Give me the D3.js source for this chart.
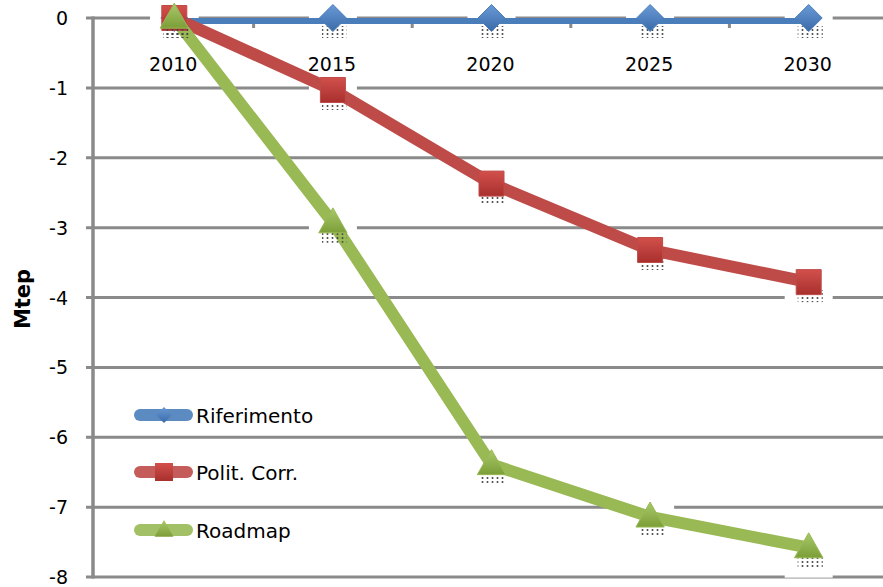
<!DOCTYPE html>
<html>
<head>
<meta charset="utf-8">
<script src="https://cdn.jsdelivr.net/npm/d3@7"></script>
<style>
  body { margin: 0; background: #fff; }
  text { font-family: "DejaVu Sans", sans-serif; fill: #000; }
</style>
</head>
<body>
<svg id="chart" width="883" height="587"></svg>
<script>
// chart data
const years = ["2010", "2015", "2020", "2025", "2030"];
const riferimento = [0, 0, 0, 0, 0];
const politCorr = [0, -1.03, -2.37, -3.32, -3.78];
const roadmap = [0, -2.93, -6.39, -7.14, -7.58];
const yTicks = [0, -1, -2, -3, -4, -5, -6, -7, -8];
const seriesNames = ["Riferimento", "Polit. Corr.", "Roadmap"];

const series = [
  { name: seriesNames[0], values: riferimento, line: "#4a7ebb", top: "#6a9ad6", bottom: "#3a6aa8", marker: "diamond" },
  { name: seriesNames[1], values: politCorr, line: "#be4b48", top: "#d2504c", bottom: "#a8302d", marker: "square" },
  { name: seriesNames[2], values: roadmap, line: "#98b954", top: "#a9c96a", bottom: "#7c9e38", marker: "triangle" }
];

const width = 883, height = 587;
const plot = { left: 93, top: 18, right: 888, bottom: 577 };

const svg = d3.select("#chart");
const defs = svg.append("defs");

defs.append("clipPath").attr("id", "plotClip")
  .append("rect")
  .attr("x", plot.left).attr("y", plot.top)
  .attr("width", width - plot.left).attr("height", plot.bottom - plot.top);

series.forEach((s, i) => {
  const g = defs.append("linearGradient").attr("id", "grad" + i)
    .attr("x1", 0).attr("y1", 0).attr("x2", 0).attr("y2", 1);
  g.append("stop").attr("offset", "0%").attr("stop-color", s.top);
  g.append("stop").attr("offset", "100%").attr("stop-color", s.bottom);
});

// dotted shadow pattern under markers
const pat = defs.append("pattern").attr("id", "dots")
  .attr("patternUnits", "userSpaceOnUse").attr("width", 5).attr("height", 4);
pat.append("circle").attr("cx", 2.5).attr("cy", 2).attr("r", 1).attr("fill", "#444");

// scales
const x = d3.scaleBand().domain(years).range([plot.left + 2, plot.right]).padding(0);
const y = d3.scaleLinear().domain([0, -8]).range([plot.top, plot.bottom]);
const cx = d => x(d) + x.bandwidth() / 2;

// gridlines
svg.append("g").selectAll("line")
  .data(yTicks)
  .join("line")
  .attr("x1", plot.left - 7).attr("x2", width)
  .attr("y1", d => y(d)).attr("y2", d => y(d))
  .attr("stroke", "#8a8a8a").attr("stroke-width", 3);

// y axis line
svg.append("line")
  .attr("x1", plot.left).attr("x2", plot.left)
  .attr("y1", plot.top - 1.5).attr("y2", plot.bottom + 1.5)
  .attr("stroke", "#8a8a8a").attr("stroke-width", 3.5);

// x axis ticks between categories
svg.append("g").selectAll("line")
  .data(years.slice(1))
  .join("line")
  .attr("x1", d => x(d)).attr("x2", d => x(d))
  .attr("y1", y(0)).attr("y2", y(0) + 10)
  .attr("stroke", "#8a8a8a").attr("stroke-width", 3);

// y tick labels
svg.append("g").selectAll("text")
  .data(yTicks)
  .join("text")
  .attr("x", 68).attr("y", d => y(d) + 7)
  .attr("text-anchor", "end")
  .attr("font-size", 19)
  .text(d => d);

// x category labels
svg.append("g").selectAll("text")
  .data(years)
  .join("text")
  .attr("x", d => cx(d) - 1).attr("y", 71)
  .attr("text-anchor", "middle")
  .attr("font-size", 19)
  .text(d => d);

// axis title
svg.append("text")
  .attr("transform", "translate(30,299) rotate(-90)")
  .attr("text-anchor", "middle")
  .attr("font-size", 21).attr("font-weight", "bold")
  .text("Mtep");

// white boxes behind (hidden) data labels
series.forEach(s => {
  svg.append("g").selectAll("rect")
    .data(years)
    .join("rect")
    .attr("x", d => cx(d) - 24).attr("y", (d, i) => y(s.values[i]) - 12)
    .attr("width", 48).attr("height", 42)
    .attr("fill", "#fff");
});

// lines
const line = d3.line().x(d => cx(d.year)).y(d => y(d.v));
series.forEach(s => {
  svg.append("path")
    .datum(years.map((yr, i) => ({ year: yr, v: s.values[i] })))
    .attr("clip-path", "url(#plotClip)")
    .attr("d", line)
    .attr("fill", "none")
    .attr("stroke", s.line)
    .attr("stroke-width", 12)
    .attr("stroke-linejoin", "round");
});

function markerPath(type, r) {
  if (type === "diamond") return `M0,${-r}L${r},0L0,${r}L${-r},0Z`;
  if (type === "square") return `M${-r},${-r}H${r}V${r}H${-r}Z`;
  return `M0,${-r * 1.1}L${r * 1.05},${r * 0.75}L${-r * 1.05},${r * 0.75}Z`;
}

// markers
series.forEach((s, si) => {
  const size = s.marker === "square" ? 12.5 : 13.5;
  const g = svg.append("g");
  g.selectAll("rect.dots")
    .data(years)
    .join("rect")
    .attr("class", "dots")
    .attr("x", d => cx(d) - 11).attr("y", (d, i) => y(s.values[i]) + 8)
    .attr("width", 25).attr("height", 12)
    .attr("fill", "url(#dots)");
  g.selectAll("path")
    .data(years)
    .join("path")
    .attr("transform", (d, i) => `translate(${cx(d)},${y(s.values[i])})`)
    .attr("d", markerPath(s.marker, size))
    .attr("fill", `url(#grad${si})`)
    .attr("stroke", s.line).attr("stroke-width", 1);
});

// legend
const legendY = [415, 472, 530];
const legend = svg.append("g");
series.forEach((s, i) => {
  const ly = legendY[i];
  legend.append("line")
    .attr("x1", 140).attr("x2", 187)
    .attr("y1", ly).attr("y2", ly)
    .attr("stroke", s.line).attr("stroke-opacity", 0.9)
    .attr("stroke-width", 12).attr("stroke-linecap", "round");
  legend.append("path")
    .attr("transform", `translate(164,${ly})`)
    .attr("d", markerPath(s.marker, s.marker === "diamond" ? 8 : 9))
    .attr("fill", `url(#grad${i})`);
  legend.append("text")
    .attr("x", 196).attr("y", ly + 8)
    .attr("font-size", 20)
    .text(s.name);
});
</script>
</body>
</html>
